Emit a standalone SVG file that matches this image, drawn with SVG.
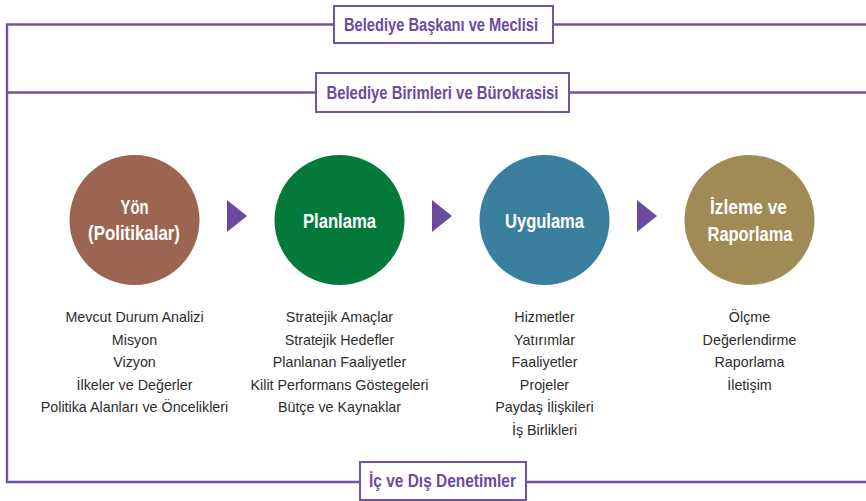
<svg xmlns="http://www.w3.org/2000/svg" width="866" height="501" viewBox="0 0 866 501">
<style>
.frame{fill:none;stroke:#7053a6;stroke-width:2.4}
.box{fill:#ffffff;stroke:#7053a6;stroke-width:2}
.arrow{fill:#6a4ba0}
text{font-family:"Liberation Sans Narrow","Liberation Sans",sans-serif;text-anchor:middle}
.blabel{font-weight:bold;font-size:18px;fill:#6a4ba0}
.clabel{font-weight:bold;font-size:21px;fill:#ffffff}
.item{font-size:14.3px;fill:#2d2d2d}
</style>
<rect width="866" height="501" fill="#ffffff"/>
<g id="connectors">
<path class="frame" d="M866 24.5H7V482H866"/>
<path class="frame" d="M7 92.5H866"/>
<polygon class="arrow" points="227,200 247,216 227,232"/>
<polygon class="arrow" points="432,200 452,216 432,232"/>
<polygon class="arrow" points="637,200 657,216 637,232"/>
</g>
<g id="baskan">
<rect class="box" x="334" y="6" width="219" height="37"/>
<text class="blabel" x="441" y="31" textLength="194" lengthAdjust="spacingAndGlyphs">Belediye Başkanı ve Meclisi</text>
</g>
<g id="birimler">
<rect class="box" x="316" y="73" width="253" height="39"/>
<text class="blabel" x="442.5" y="98.5" textLength="232" lengthAdjust="spacingAndGlyphs">Belediye Birimleri ve Bürokrasisi</text>
</g>
<g id="denetim">
<rect class="box" x="360" y="462" width="166" height="38"/>
<text class="blabel" x="442.5" y="487" textLength="147" lengthAdjust="spacingAndGlyphs">İç ve Dış Denetimler</text>
</g>
<g id="yon">
<circle cx="134.5" cy="220" r="65" fill="#9c6551"/>
<text class="clabel" x="134.5" y="214" textLength="28" lengthAdjust="spacingAndGlyphs">Yön</text>
<text class="clabel" x="134" y="240" textLength="92" lengthAdjust="spacingAndGlyphs">(Politikalar)</text>
<text class="item" x="134.5" y="322">Mevcut Durum Analizi</text>
<text class="item" x="134.5" y="344.5">Misyon</text>
<text class="item" x="134.5" y="367">Vizyon</text>
<text class="item" x="134.5" y="389.5">İlkeler ve Değerler</text>
<text class="item" x="134.5" y="412">Politika Alanları ve Öncelikleri</text>
</g>
<g id="planlama">
<circle cx="339.5" cy="220" r="65" fill="#037a3a"/>
<text class="clabel" x="339.5" y="227.5" textLength="73" lengthAdjust="spacingAndGlyphs">Planlama</text>
<text class="item" x="339.5" y="322">Stratejik Amaçlar</text>
<text class="item" x="339.5" y="344.5">Stratejik Hedefler</text>
<text class="item" x="339.5" y="367">Planlanan Faaliyetler</text>
<text class="item" x="339.5" y="389.5">Kilit Performans Göstegeleri</text>
<text class="item" x="339.5" y="412">Bütçe ve Kaynaklar</text>
</g>
<g id="uygulama">
<circle cx="544.5" cy="220" r="65" fill="#3b7f9e"/>
<text class="clabel" x="544.5" y="227.5" textLength="79" lengthAdjust="spacingAndGlyphs">Uygulama</text>
<text class="item" x="544.5" y="322">Hizmetler</text>
<text class="item" x="544.5" y="344.5">Yatırımlar</text>
<text class="item" x="544.5" y="367">Faaliyetler</text>
<text class="item" x="544.5" y="389.5">Projeler</text>
<text class="item" x="544.5" y="412">Paydaş İlişkileri</text>
<text class="item" x="544.5" y="434.5">İş Birlikleri</text>
</g>
<g id="izleme">
<circle cx="749.5" cy="220" r="65" fill="#a08a55"/>
<text class="clabel" x="748.5" y="214" textLength="77" lengthAdjust="spacingAndGlyphs">İzleme ve</text>
<text class="clabel" x="750" y="241" textLength="85" lengthAdjust="spacingAndGlyphs">Raporlama</text>
<text class="item" x="749.5" y="322">Ölçme</text>
<text class="item" x="749.5" y="344.5">Değerlendirme</text>
<text class="item" x="749.5" y="367">Raporlama</text>
<text class="item" x="749.5" y="389.5">İletişim</text>
</g>
</svg>
